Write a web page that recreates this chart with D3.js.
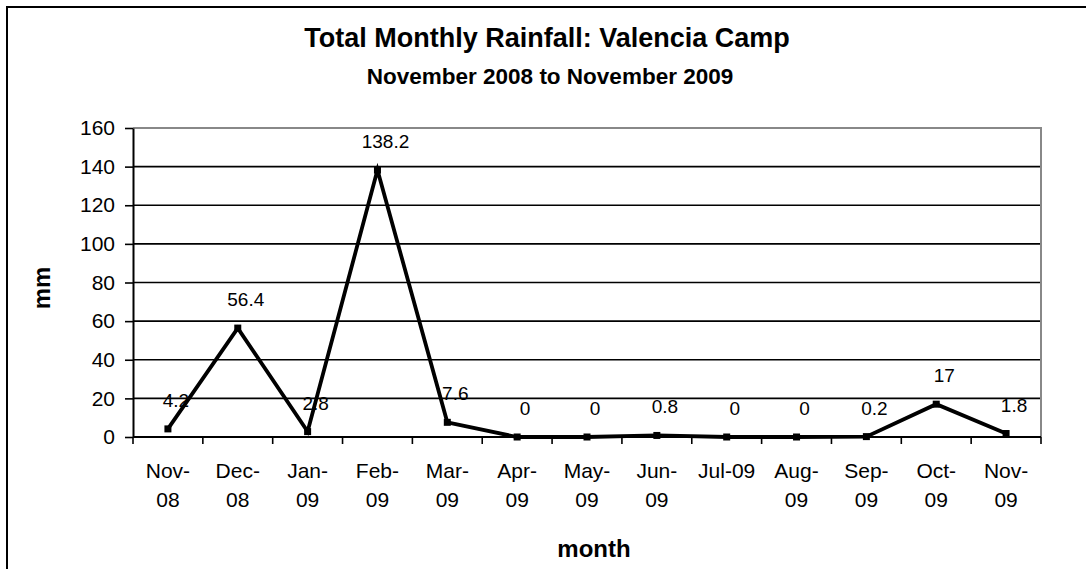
<!DOCTYPE html>
<meta charset="utf-8">
<style>
body { margin: 0; background: #fff; }
svg text { font-family: Arial, "Liberation Sans", sans-serif; fill: #000; }
.title { font-weight: bold; }
.labels text { font-size: 19px; }
</style>
<svg width="1086" height="569"></svg>
<script src="https://d3js.org/d3.v7.min.js"></script>
<script>

// data
var months = ["Nov-08", "Dec-08", "Jan-09", "Feb-09", "Mar-09", "Apr-09", "May-09",
	"Jun-09", "Jul-09", "Aug-09", "Sep-09", "Oct-09", "Nov-09"]
var monthLines = [["Nov-", "08"], ["Dec-", "08"], ["Jan-", "09"], ["Feb-", "09"], ["Mar-", "09"],
	["Apr-", "09"], ["May-", "09"], ["Jun-", "09"], ["Jul-09"], ["Aug-", "09"], ["Sep-", "09"],
	["Oct-", "09"], ["Nov-", "09"]]
var rainfall = [4.2, 56.4, 2.8, 138.2, 7.6, 0, 0, 0.8, 0, 0, 0.2, 17, 1.8]
var yTicks = [0, 20, 40, 60, 80, 100, 120, 140, 160]

var svg = d3.select('svg')

// outer chart frame (runs off the right and bottom of the picture)
svg.append('rect')
	.attr('x', 7).attr('y', 7)
	.attr('width', 1100).attr('height', 600)
	.attr('fill', 'none')
	.attr('stroke', '#000')
	.attr('stroke-width', 2)

var plotLeft = 133, plotRight = 1041, plotTop = 128, plotBottom = 437

var x = d3.scaleBand().domain(months).range([plotLeft, plotRight])
var y = d3.scaleLinear().domain([0, 160]).range([plotBottom, plotTop])

// gridlines
svg.append('g')
	.selectAll('line')
	.data(yTicks.filter(function (d) { return d > 0 && d < 160 }))
	.enter().append('line')
	.attr('x1', plotLeft).attr('x2', plotRight)
	.attr('y1', function (d) { return y(d) }).attr('y2', function (d) { return y(d) })
	.attr('stroke', '#000')
	.attr('stroke-width', 1.6)

// plot area top and right edge are grey
svg.append('path')
	.attr('d', 'M' + plotLeft + ',' + y(160) + 'H' + plotRight + 'V' + plotBottom)
	.attr('fill', 'none')
	.attr('stroke', '#888')
	.attr('stroke-width', 2)

// y axis
var yAxis = svg.append('g')
	.attr('transform', 'translate(' + plotLeft + ',0)')
	.call(d3.axisLeft(y).tickValues(yTicks).tickSize(8).tickPadding(10).tickSizeOuter(0))
yAxis.select('.domain').attr('stroke', '#000').attr('stroke-width', 2)
yAxis.selectAll('.tick line').attr('stroke', '#000').attr('stroke-width', 1.6)
yAxis.selectAll('.tick text')
	.attr('fill', '#000')
	.attr('font-size', 21)
	.attr('font-family', 'Arial, "Liberation Sans", sans-serif')

// x axis: ticks sit between the categories
var bounds = d3.range(months.length + 1).map(function (i) { return plotLeft + i * x.bandwidth() })
var xAxis = svg.append('g')
xAxis.append('line')
	.attr('x1', plotLeft).attr('x2', plotRight)
	.attr('y1', plotBottom).attr('y2', plotBottom)
	.attr('stroke', '#000').attr('stroke-width', 2)
xAxis.selectAll('line.tk')
	.data(bounds)
	.enter().append('line')
	.attr('class', 'tk')
	.attr('x1', function (d) { return d }).attr('x2', function (d) { return d })
	.attr('y1', plotBottom).attr('y2', plotBottom + 7)
	.attr('stroke', '#000').attr('stroke-width', 1.6)
var xLabels = xAxis.selectAll('text.xl')
	.data(months)
	.enter().append('text')
	.attr('class', 'xl')
	.attr('text-anchor', 'middle')
	.attr('font-size', 21)
xLabels.each(function (d, i) {
	var t = d3.select(this)
	var cx = x(d) + x.bandwidth() / 2
	monthLines[i].forEach(function (s, j) {
		t.append('tspan').attr('x', cx).attr('y', 478 + j * 29).text(s)
	})
})

// line and markers
var line = d3.line()
	.x(function (d, i) { return x(months[i]) + x.bandwidth() / 2 })
	.y(function (d) { return y(d) })

svg.append('path')
	.datum(rainfall)
	.attr('d', line)
	.attr('fill', 'none')
	.attr('stroke', '#000')
	.attr('stroke-width', 3.8)
	.attr('stroke-linejoin', 'miter')

svg.append('g')
	.selectAll('rect')
	.data(rainfall)
	.enter().append('rect')
	.attr('x', function (d, i) { return x(months[i]) + x.bandwidth() / 2 - 3.5 })
	.attr('y', function (d) { return y(d) - 3.5 })
	.attr('width', 7).attr('height', 7)
	.attr('fill', '#000')

// data labels
svg.append('g')
	.attr('class', 'labels')
	.selectAll('text')
	.data(rainfall)
	.enter().append('text')
	.attr('text-anchor', 'middle')
	.attr('x', function (d, i) { return x(months[i]) + x.bandwidth() / 2 + 8 })
	.attr('y', function (d) { return y(d) - 22 })
	.text(function (d) { return d })

// titles
svg.append('text')
	.attr('class', 'title')
	.attr('x', 547).attr('y', 47)
	.attr('text-anchor', 'middle')
	.attr('font-size', 27)
	.text('Total Monthly Rainfall: Valencia Camp')

svg.append('text')
	.attr('class', 'title')
	.attr('x', 550).attr('y', 84)
	.attr('text-anchor', 'middle')
	.attr('font-size', 22.5)
	.text('November 2008 to November 2009')

svg.append('text')
	.attr('class', 'title')
	.attr('transform', 'translate(50,288) rotate(-90)')
	.attr('text-anchor', 'middle')
	.attr('font-size', 24)
	.text('mm')

svg.append('text')
	.attr('class', 'title')
	.attr('x', 594).attr('y', 557)
	.attr('text-anchor', 'middle')
	.attr('font-size', 24)
	.text('month')
</script>
